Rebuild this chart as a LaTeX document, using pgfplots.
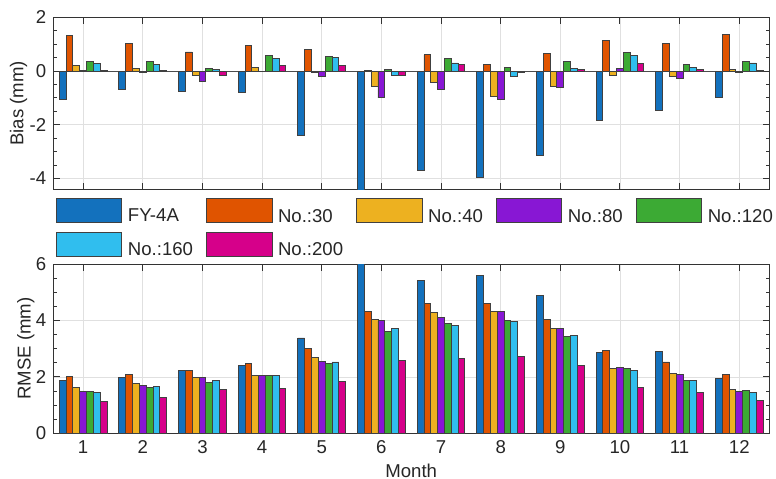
\documentclass[border=0pt]{standalone}
\usepackage{fontspec}
\setmainfont{Liberation Sans}
\usepackage{pgfplots}
\usepackage{pgfplotstable}
\pgfplotsset{compat=1.18}

\definecolor{cFY}{RGB}{19,113,189}
\definecolor{cA}{RGB}{224,84,0}
\definecolor{cB}{RGB}{237,177,32}
\definecolor{cC}{RGB}{136,23,212}
\definecolor{cD}{RGB}{60,170,52}
\definecolor{cE}{RGB}{48,190,238}
\definecolor{cF}{RGB}{214,0,138}

\newcommand\fs{\fontsize{9.3}{11}\selectfont}

% month, FY-4A, No.:30, No.:40, No.:80, No.:120, No.:160, No.:200
\pgfplotstableread{
m  fy    a     b     c     d     e     f
1  -1.04 1.32  0.20  0.02  0.35  0.27  0.01
2  -0.70 1.04  0.10  -0.07 0.35  0.25  0.02
3  -0.76 0.71  -0.17 -0.39 0.10  0.05  -0.15
4  -0.81 0.96  0.15  -0.03 0.57  0.46  0.22
5  -2.40 0.82  -0.05 -0.19 0.55  0.50  0.21
6  -4.60 0.02  -0.58 -1.00 0.07  -0.17 -0.17
7  -3.71 0.60  -0.41 -0.70 0.46  0.30  0.26
8  -3.97 0.26  -0.93 -1.04 0.14  -0.20 -0.04
9  -3.13 0.65  -0.58 -0.61 0.34  0.10  0.05
10 -1.84 1.13  -0.17 0.09  0.70  0.57  0.27
11 -1.48 1.02  -0.21 -0.27 0.24  0.15  0.06
12 -0.98 1.36  0.06  -0.04 0.34  0.30  0.02
}\bias

\pgfplotstableread{
m  fy   a    b    c    d    e    f
1  1.89 2.03 1.62 1.48 1.48 1.45 1.12
2  1.97 2.10 1.77 1.70 1.63 1.65 1.26
3  2.24 2.24 1.97 1.97 1.81 1.87 1.54
4  2.40 2.49 2.06 2.06 2.06 2.04 1.58
5  3.38 3.00 2.69 2.55 2.49 2.53 1.84
6  6.20 4.31 4.05 3.99 3.61 3.72 2.59
7  5.43 4.61 4.29 4.12 3.90 3.83 2.66
8  5.59 4.61 4.32 4.32 3.99 3.98 2.74
9  4.89 4.04 3.73 3.73 3.43 3.48 2.41
10 2.87 2.93 2.31 2.35 2.30 2.24 1.63
11 2.91 2.53 2.11 2.08 1.89 1.89 1.44
12 1.95 2.10 1.54 1.49 1.51 1.46 1.15
}\rmse

\pgfplotsset{
  mataxis/.style={
    scale only axis, width=357.9pt,
    ybar, bar width=0.1143,
    xmin=0.5, xmax=12.5, xtick={1,...,12},
    tick align=inside, major tick length=3.3pt, minor tick length=1.8pt,
    minor y tick num=3,
    grid=major, major grid style={black!12, line width=0.4pt},
    axis line style={black!80, line width=0.5pt},
    every tick/.style={black!80, line width=0.5pt},
    tick label style={font=\fs, text=black!85},
    label style={font=\fs, text=black!85},
    /pgf/number format/assume math mode=true,
    every axis plot/.append style={draw=black!75, line width=0.45pt},
  },
}

\begin{document}
\begin{tikzpicture}
\useasboundingbox (-26.65pt,-144.35pt) rectangle (361.35pt,94.65pt);

\begin{axis}[mataxis, at={(0,0)}, height=86pt,
  ymin=-4.4, ymax=2, ytick={-4,-2,0,2},
  xticklabels={},
  ylabel={Bias (mm)},
  ylabel style={at={(axis description cs:-0.0486,0.5)}, anchor=center},
  extra y ticks={0}, extra y tick labels={},
  extra y tick style={major grid style={black!70, line width=0.5pt}},
  legend columns=5, legend cell align=left,
  legend style={at={(axis description cs:0,0)}, anchor=north west,
    xshift=1.2pt, yshift=-4pt, draw=none, fill=none, inner sep=0pt,
    column sep=0pt, row sep=3.3pt, font=\fs, text=black!85,
    nodes={inner sep=0pt}},
  legend image code/.code={\draw[#1] (0pt,-2.75pt) rectangle (32.65pt,9.45pt);},
]
  \addplot[fill=cFY, bar shift=-0.3429] table[x=m, y=fy] {\bias};
  \addlegendentry{\kern2.8pt FY-4A\kern6.6pt}
  \addplot[fill=cA, bar shift=-0.2286] table[x=m, y=a] {\bias};
  \addlegendentry{\kern2.8pt No.:30\kern6.6pt}
  \addplot[fill=cB, bar shift=-0.1143] table[x=m, y=b] {\bias};
  \addlegendentry{\kern2.8pt No.:40\kern6.6pt}
  \addplot[fill=cC, bar shift=0] table[x=m, y=c] {\bias};
  \addlegendentry{\kern2.8pt No.:80\kern6.6pt}
  \addplot[fill=cD, bar shift=0.1143] table[x=m, y=d] {\bias};
  \addlegendentry{\kern2.8pt No.:120}
  \addplot[fill=cE, bar shift=0.2286] table[x=m, y=e] {\bias};
  \addlegendentry{\kern2.8pt No.:160\kern6.6pt}
  \addplot[fill=cF, bar shift=0.3429] table[x=m, y=f] {\bias};
  \addlegendentry{\kern2.8pt No.:200\kern6.6pt}
\end{axis}

\begin{axis}[mataxis, at={(0,-37.35pt)}, anchor=north west, height=84.7pt,
  ymin=0, ymax=6, ytick={0,2,4,6},
  xlabel={Month}, ylabel={RMSE (mm)},
  xlabel style={at={(axis description cs:0.5,-0.219)}, anchor=center},
  ylabel style={at={(axis description cs:-0.0384,0.5)}, anchor=center},
]
  \addplot[fill=cFY, bar shift=-0.3429] table[x=m, y=fy] {\rmse};
  \addplot[fill=cA, bar shift=-0.2286] table[x=m, y=a] {\rmse};
  \addplot[fill=cB, bar shift=-0.1143] table[x=m, y=b] {\rmse};
  \addplot[fill=cC, bar shift=0] table[x=m, y=c] {\rmse};
  \addplot[fill=cD, bar shift=0.1143] table[x=m, y=d] {\rmse};
  \addplot[fill=cE, bar shift=0.2286] table[x=m, y=e] {\rmse};
  \addplot[fill=cF, bar shift=0.3429] table[x=m, y=f] {\rmse};
\end{axis}
\end{tikzpicture}
\end{document}
